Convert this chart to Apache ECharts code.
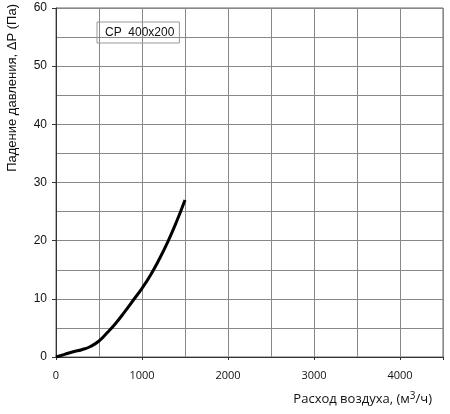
<!DOCTYPE html>
<html><head><meta charset="utf-8">
<script src="https://cdn.jsdelivr.net/npm/echarts@6/dist/echarts.min.js"></script>
<style>html,body{margin:0;padding:0;background:#fff}#c{width:450px;height:414px}</style>
</head><body><div id="c"></div>
<script>
const seriesName = 'CP  400x200';
const flow = [0, 100, 200, 300, 400, 500, 600, 700, 800, 900, 1000, 1100, 1200, 1300, 1400, 1500];
const pressure = [0, 0.45, 0.9, 1.25, 1.8, 2.75, 4.25, 5.9, 7.8, 9.8, 11.8, 14.1, 16.8, 19.8, 23.2, 27.0];
const xTitle = 'Расход воздуха, (м{sup|3}/ч)';
const yTitle = 'Падение давления, ΔP (Па)';

const chart = echarts.init(document.getElementById('c'), null, {renderer: 'canvas'});
chart.setOption({
  animation: false,
  grid: {left: 56, top: 8, right: 7, bottom: 57, show: true, borderColor: '#666', borderWidth: 1},
  legend: {
    left: 97, top: 22, data: [seriesName], icon: 'none', itemWidth: 0, itemGap: 0,
    borderColor: '#999', borderWidth: 1, padding: [4, 5, 4, 3],
    textStyle: {fontFamily: 'Liberation Sans', fontSize: 12, color: '#111'}
  },
  xAxis: [{
    type: 'value', min: 0, max: 4500, interval: 500,
    axisLine: {lineStyle: {color: '#333', width: 1}},
    axisTick: {show: false},
    axisLabel: {formatter: v => (v % 1000 === 0 ? String(v) : ''), color: '#111', fontFamily: 'Open Sans', fontSize: 11, margin: 13},
    splitLine: {show: true, lineStyle: {color: '#888', width: 1}}
  }, {
    type: 'value', min: 0, max: 4500, interval: 1000, position: 'bottom',
    axisLine: {show: false},
    axisTick: {show: true, length: 3, lineStyle: {color: '#333'}},
    axisLabel: {show: false}, splitLine: {show: false}
  }],
  yAxis: {
    type: 'value', min: 0, max: 60, interval: 10,
    axisLine: {show: true, lineStyle: {color: '#333', width: 1}},
    axisTick: {show: true, length: 4, lineStyle: {color: '#333'}},
    axisLabel: {color: '#111', fontFamily: 'Liberation Sans', fontSize: 12, margin: 9},
    splitLine: {show: true, lineStyle: {color: '#888', width: 1}},
    minorTick: {show: false, splitNumber: 2},
    minorSplitLine: {show: true, lineStyle: {color: '#888', width: 1}}
  },
  graphic: [{
    type: 'text', left: 6, top: 4, rotation: Math.PI / 2,
    style: {text: yTitle, fill: '#111', fontFamily: 'Liberation Sans', fontSize: 13},
    x: 8, y: 172, originX: 0, originY: 0
  }, {
    type: 'text', right: 18, top: 391,
    style: {
      text: xTitle, fill: '#111', fontFamily: 'Open Sans', fontSize: 13,
      rich: {sup: {fontSize: 10, verticalAlign: 'top', padding: [0, 0, 6, 0], fontFamily: 'Open Sans', fill: '#111'}}
    }
  }],
  series: [{
    name: seriesName, type: 'line', xAxisIndex: 0, smooth: 0.5, showSymbol: false,
    lineStyle: {color: '#000', width: 3}, itemStyle: {color: '#000'},
    data: flow.map((f, i) => [f, pressure[i]])
  }]
});
</script></body></html>
